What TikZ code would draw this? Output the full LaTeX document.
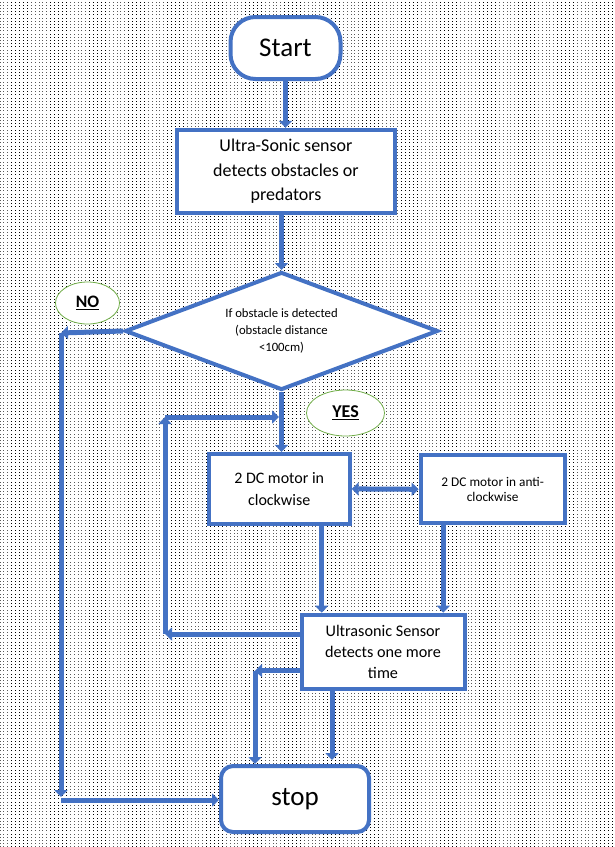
\documentclass[tikz,border=0pt]{standalone}
\usepackage{fontspec}
\setmainfont{Carlito}
\usetikzlibrary{arrows.meta,shapes.geometric,patterns}
\definecolor{fblue}{HTML}{4472C4}
\definecolor{fgreen}{HTML}{70AD47}
\pgfdeclarepatternformonly{bgdots}{\pgfqpoint{-0.5pt}{-0.5pt}}{\pgfqpoint{0.5pt}{0.5pt}}{\pgfqpoint{3.9pt}{3.2pt}}{%
  \pgfpathrectangle{\pgfqpoint{-0.5pt}{-0.5pt}}{\pgfqpoint{1pt}{1pt}}\pgfusepath{fill}}
\tikzset{
  box/.style={draw=fblue, line width=4pt, fill=white, rectangle, inner sep=0pt, align=center},
  term/.style={box, font=\fontsize{27}{32}\selectfont},
  dec/.style={draw=fblue, line width=4pt, fill=white, diamond, inner sep=0pt, align=center, aspect=2.64},
  tag/.style={draw=fgreen, line width=0.8pt, fill=white, ellipse, inner sep=0pt},
  conn/.style={draw=fblue, line width=5pt, -{Triangle[width=13pt,length=7pt]}},
  dconn/.style={draw=fblue, line width=5pt, {Triangle[width=13pt,length=7pt]}-{Triangle[width=13pt,length=7pt]}},
}
\begin{document}
\begin{tikzpicture}[x=1pt,y=-1pt]
\useasboundingbox (0,0) rectangle (615,847);
\fill[white] (0,0) rectangle (615,847);
\fill[pattern=bgdots, pattern color=black] (0,0) rectangle (615,847);

% nodes
\node[term, rounded corners=25pt, minimum width=110pt, minimum height=62pt] (start) at (285.5,48) {Start};
\node[box, font=\fontsize{18}{24.5}\selectfont, minimum width=218pt, minimum height=83pt] (sense) at (286,171.3) {Ultra-Sonic sensor\\detects obstacles or\\predators};
\node[dec, font=\fontsize{12.7}{16.7}\selectfont, minimum width=313pt, minimum height=118pt] (dec) at (281.5,331) {If obstacle is detected\\(obstacle distance\\<100cm)};
\node[box, font=\fontsize{16}{22}\selectfont, minimum width=141pt, minimum height=70pt] (cw) at (279.2,488.9) {2 DC motor in\\clockwise};
\node[box, font=\fontsize{13.3}{15.7}\selectfont, minimum width=144pt, minimum height=68pt] (acw) at (492.7,489.3) {2 DC motor in anti-\\clockwise};
\node[box, font=\fontsize{16.2}{21}\selectfont, minimum width=163pt, minimum height=74pt] (again) at (383,651.7) {Ultrasonic Sensor\\detects one more\\time};
\node[term, rounded corners=12pt, minimum width=148pt, minimum height=66pt] (stop) at (295,799) {stop};
\node[tag, minimum width=64pt, minimum height=42pt, font=\fontsize{17.5}{20}\selectfont\bfseries] (no) at (87.5,303) {\underline{NO}};
\node[tag, minimum width=78pt, minimum height=46pt, font=\fontsize{18}{20}\selectfont\bfseries] (yes) at (345.5,413) {\underline{YES}};

% helper coordinates
\coordinate (n1) at (61,333);
\coordinate (n2) at (61,797);
\coordinate (n3) at (61,800);
\coordinate (l1) at (165,634);
\coordinate (l2) at (165,417);
\coordinate (a6) at (321.7,0);
\coordinate (a7) at (443.3,0);
\coordinate (a8) at (255,670.7);
\coordinate (a9) at (332,0);

% connectors
\draw[conn] (start.south) -- (start.south |- sense.north);
\draw[conn] (dec.north |- sense.south) -- (dec.north);
\draw[conn] (dec.south) -- (dec.south |- cw.north);
% NO branch
\draw[conn] (dec.west) -- (n1);
\draw[conn] (n1) -- (n2);
\draw[conn] (n3) -- (stop.west |- n3);
% loop back
\draw[conn] (again.west |- l1) -- (l1);
\draw[conn] (l1) -- (l2);
\draw[conn, shorten >=2.5pt] (l2) -- (dec.south |- l2);
% motors
\draw[dconn] (cw.east) -- (acw.west);
\draw[conn] (cw.south -| a6) -- (again.north -| a6);
\draw[conn] (acw.south -| a7) -- (again.north -| a7);
% to stop
\draw[conn] (again.west |- a8) -- (a8);
\draw[conn] (a8) -- (a8 |- stop.north);
\draw[conn, shorten >=4pt] (again.south -| a9) -- (stop.north -| a9);
\end{tikzpicture}
\end{document}
